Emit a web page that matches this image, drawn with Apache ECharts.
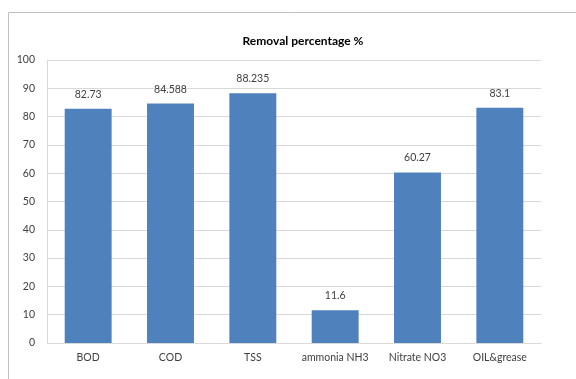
<!DOCTYPE html>
<html>
<head>
<meta charset="utf-8">
<script src="https://cdn.jsdelivr.net/npm/echarts@6/dist/echarts.min.js"></script>
<style>
  html, body { margin: 0; padding: 0; background: #ffffff; }
  #chart { width: 576px; height: 379px; }
</style>
</head>
<body>
<div id="chart"></div>
<script>
// Removal efficiency per parameter
const categories = ['BOD', 'COD', 'TSS', 'ammonia NH3', 'Nitrate NO3', 'OIL&grease'];
const removalValues = [82.73, 84.588, 88.235, 11.6, 60.27, 83.1];
const valueLabels = ['82.73', '84.588', '88.235', '11.6', '60.27', '83.1'];
const yTicks = [0, 10, 20, 30, 40, 50, 60, 70, 80, 90, 100];

const fontFamily = 'Lato, "Open Sans", sans-serif';
const chart = echarts.init(document.getElementById('chart'), null, { renderer: 'canvas' });

chart.setOption({
  animation: false,
  backgroundColor: '#ffffff',
  title: {
    text: 'Removal percentage %',
    left: 298,
    textAlign: 'center',
    top: 30,
    textStyle: { fontFamily, fontSize: 12, fontWeight: 'bold', color: '#000000' }
  },
  graphic: [{
    type: 'rect',
    shape: { x: 8.5, y: 12.5, width: 600, height: 400 },
    style: { fill: 'none', stroke: '#bfbfbf', lineWidth: 1 },
    silent: true,
    z: -1
  }],
  grid: { left: 47, right: 35, top: 60, bottom: 36, containLabel: false },
  xAxis: {
    type: 'category',
    data: categories,
    axisLine: { show: true, lineStyle: { color: '#d9d9d9' } },
    axisTick: { show: false },
    axisLabel: { fontFamily, fontSize: 10.5, color: '#404040', margin: 9, interval: 0, hideOverlap: false }
  },
  yAxis: {
    type: 'value',
    min: yTicks[0],
    max: yTicks[yTicks.length - 1],
    interval: 10,
    axisLine: { show: true, lineStyle: { color: '#d9d9d9' } },
    axisTick: { show: false },
    axisLabel: { fontFamily, fontSize: 10.5, color: '#404040', margin: 12 },
    splitLine: { show: true, lineStyle: { color: '#d9d9d9' } }
  },
  series: [{
    type: 'bar',
    data: removalValues,
    barWidth: '57%',
    itemStyle: { color: '#4f81bd' },
    label: {
      show: true,
      position: 'top',
      distance: 9,
      fontFamily,
      fontSize: 10.5,
      color: '#404040',
      formatter: p => valueLabels[p.dataIndex]
    }
  }]
});
</script>
</body>
</html>
